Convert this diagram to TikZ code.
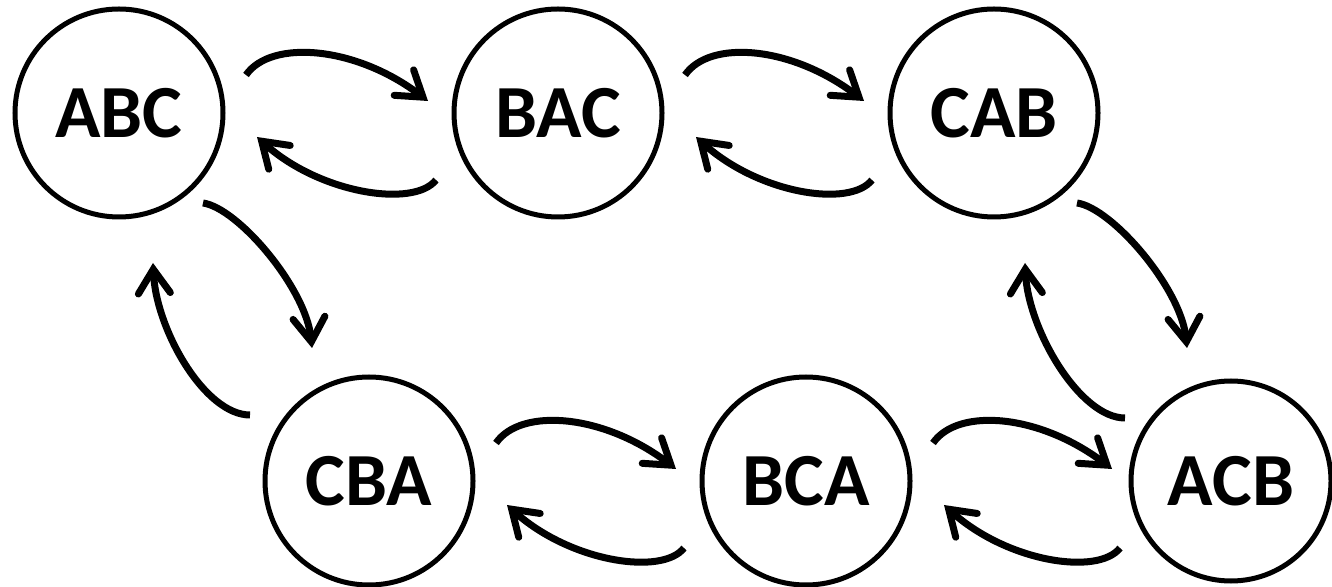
\documentclass[tikz,border=0pt]{standalone}
\usepackage{fontspec}
\setmainfont{Carlito}
\usetikzlibrary{arrows.meta,calc}
\begin{document}
\begin{tikzpicture}[x=1pt,y=1pt,
  state/.style={circle,draw,line width=5pt,inner sep=0pt,minimum size=208pt,
    font=\fontsize{75}{80}\selectfont\bfseries},
  link/.style={line width=7pt,
    -{Straight Barb[length=24pt,width=32pt,line cap=round]}}]
\useasboundingbox (0,0) rectangle (1332,586);
% states
\node[state] (ABC) at (119,473) {ABC};
\node[state] (BAC) at (558,473) {BAC};
\node[state] (CAB) at (994,473) {CAB};
\node[state] (CBA) at (369,105) {CBA};
\node[state] (BCA) at (806,105) {BCA};
\node[state,minimum size=200pt] (ACB) at (1231,105) {ACB};
% connector ends
\coordinate (ab1) at ($(ABC)+(127,38)$);
\coordinate (ab2) at ($(BAC)+(-130,12)$);
\coordinate (ba1) at ($(BAC)+(-122,-67)$);
\coordinate (ba2) at ($(ABC)+(138,-24)$);
\coordinate (bc1) at ($(BAC)+(127,38)$);
\coordinate (bc2) at ($(CAB)+(-130,12)$);
\coordinate (cb1) at ($(CAB)+(-122,-67)$);
\coordinate (cb2) at ($(BAC)+(138,-24)$);
\coordinate (de1) at ($(CBA)+(127,38)$);
\coordinate (de2) at ($(BCA)+(-130,12)$);
\coordinate (ed1) at ($(BCA)+(-122,-67)$);
\coordinate (ed2) at ($(CBA)+(138,-24)$);
\coordinate (ef1) at ($(BCA)+(127,38)$);
\coordinate (ef2) at ($(ACB)+(-119,12)$);
\coordinate (fe1) at ($(ACB)+(-111,-67)$);
\coordinate (fe2) at ($(BCA)+(138,-24)$);
\coordinate (ad1) at ($(ABC)+(84,-90)$);
\coordinate (ad2) at ($(CBA)+(-57,133)$);
\coordinate (da1) at ($(CBA)+(-119,66)$);
\coordinate (da2) at ($(ABC)+(34,-150)$);
\coordinate (cf1) at ($(CAB)+(83,-90)$);
\coordinate (cf2) at ($(ACB)+(-44,133)$);
\coordinate (fc1) at ($(ACB)+(-106,63)$);
\coordinate (fc2) at ($(CAB)+(31,-150)$);
% horizontal connectors
\foreach \s/\t in {ab1/ab2,bc1/bc2,de1/de2,ef1/ef2}
  \draw[link] (\s) .. controls +(25,36) and +(-72,55) .. (\t);
\foreach \s/\t in {ba1/ba2,cb1/cb2,ed1/ed2,fe1/fe2}
  \draw[link] (\s) .. controls +(-22,-28) and +(63,-57) .. (\t);
% vertical connectors
\foreach \s/\t in {ad1/ad2,cf1/cf2}
  \draw[link] (\s) .. controls +(35,-5) and +(-6,60) .. (\t);
\foreach \s/\t in {da1/da2,fc1/fc2}
  \draw[link] (\s) .. controls +(-45,0) and +(3,-67) .. (\t);
\end{tikzpicture}
\end{document}
